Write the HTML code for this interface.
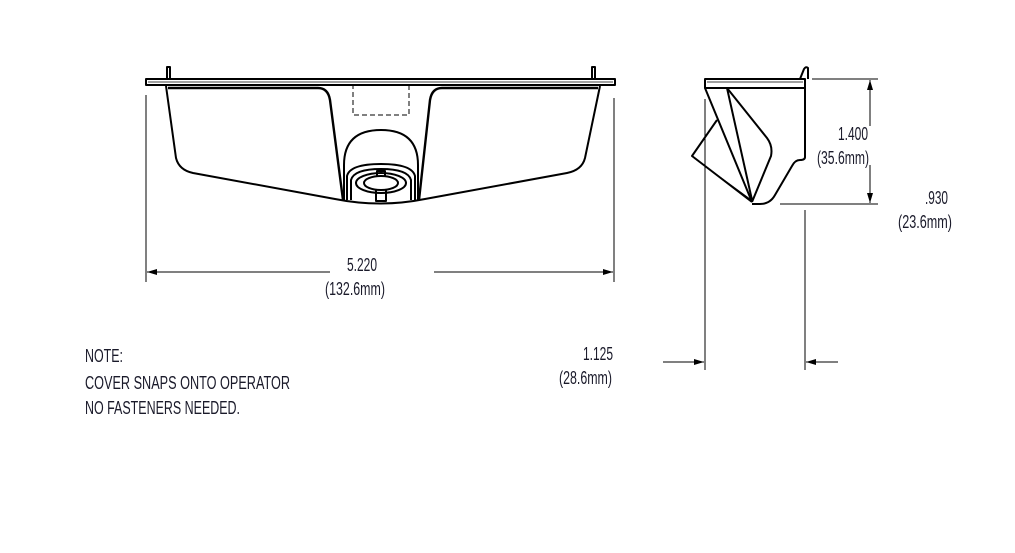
<!DOCTYPE html>
<html><head><meta charset="utf-8"><style>
html,body{margin:0;padding:0;background:#fff;}
svg{display:block;}
text{font-family:"Liberation Sans Narrow","Liberation Sans",sans-serif;fill:#1a1a2a;}
</style></head><body>
<svg width="1015" height="553" viewBox="0 0 1015 553" xmlns="http://www.w3.org/2000/svg">
<defs>
<marker id="a" viewBox="0 0 10 6" refX="10" refY="3" markerWidth="14" markerHeight="6" markerUnits="userSpaceOnUse" orient="auto"><path d="M0,0L10,3L0,6z" fill="#000"/></marker>
</defs>
<g fill="none" stroke="#000" stroke-width="2" stroke-linejoin="round">
<!-- front view -->
<rect x="146" y="79" width="469" height="6"/>
<line x1="148" y1="82" x2="613" y2="82" stroke-width="0.8"/>
<path d="M167,79V67h3v12M592,79V67h3v12"/>
<path d="M166,86L176,158Q179,170 193,173L335,199Q380,208 425,199L567,173Q582,170 585,158L600,86"/>
<path d="M168,88H318Q328,88 330,100L343,200" stroke-width="2.4"/>
<path d="M598,88H442Q432,88 430,100L419,200" stroke-width="2.4"/>
<rect x="353" y="85" width="56" height="30" stroke-dasharray="5,3" stroke-width="1"/>
<path d="M344,200V165Q344,130 381,130Q418,130 418,165V200"/>
<path d="M347,200V176Q350,164 381,164Q412,164 415,176V200"/>
<path d="M351,200V180Q354,169 381,169Q408,169 411,180V200"/>
<ellipse cx="381" cy="183" rx="25" ry="10"/>
<ellipse cx="381" cy="183" rx="17" ry="7"/>
<path d="M376,190V201H386V190"/>
<path d="M377,176v-5h8v5"/>
<!-- front dims -->
<line x1="146" y1="95" x2="146" y2="282" stroke-width="1"/>
<line x1="614" y1="98" x2="614" y2="282" stroke-width="1"/>
<line x1="330" y1="272" x2="147" y2="272" stroke-width="1" marker-end="url(#a)"/>
<line x1="434" y1="272" x2="613" y2="272" stroke-width="1" marker-end="url(#a)"/>
<!-- side view -->
<path d="M705,79H805V88H705z"/>
<line x1="707" y1="82" x2="803" y2="82" stroke-width="0.8"/>
<path d="M800,79L804,69Q806,66 808,68V79"/>
<path d="M805,88V157Q805,160 800,160Q795,160 792,166L775,195Q770,204 760,204H752"/>
<path d="M705,88L752,202"/>
<path d="M727,88L752,200"/>
<path d="M717,120L692,156L752,202"/>
<line x1="694" y1="158" x2="750" y2="199" stroke-width="0.8"/>
<path d="M727,88L767,138Q773,146 771,156L752,202"/>
<!-- side dims -->
<line x1="705" y1="99" x2="705" y2="370" stroke-width="1"/>
<line x1="805" y1="98" x2="805" y2="140" stroke-width="1"/>
<line x1="805" y1="210" x2="805" y2="370" stroke-width="1"/>
<line x1="812" y1="79" x2="878" y2="79" stroke-width="1"/>
<line x1="780" y1="204" x2="878" y2="204" stroke-width="1"/>
<line x1="870" y1="126" x2="870" y2="80" stroke-width="1" marker-end="url(#a)"/>
<line x1="870" y1="165" x2="870" y2="203" stroke-width="1" marker-end="url(#a)"/>
<line x1="663" y1="362" x2="704" y2="362" stroke-width="1" marker-end="url(#a)"/>
<line x1="838" y1="362" x2="806" y2="362" stroke-width="1" marker-end="url(#a)"/>
</g>
<g font-size="18">
<text x="347" y="271" textLength="30" lengthAdjust="spacingAndGlyphs">5.220</text>
<text x="325" y="295" textLength="60" lengthAdjust="spacingAndGlyphs">(132.6mm)</text>
<text x="838" y="140" textLength="30" lengthAdjust="spacingAndGlyphs">1.400</text>
<text x="817" y="164" textLength="52" lengthAdjust="spacingAndGlyphs">(35.6mm)</text>
<text x="925" y="204" textLength="23" lengthAdjust="spacingAndGlyphs">.930</text>
<text x="898" y="228" textLength="54" lengthAdjust="spacingAndGlyphs">(23.6mm)</text>
<text x="583" y="360" textLength="30" lengthAdjust="spacingAndGlyphs">1.125</text>
<text x="559" y="384" textLength="53" lengthAdjust="spacingAndGlyphs">(28.6mm)</text>
<text x="85" y="362" textLength="38" lengthAdjust="spacingAndGlyphs">NOTE:</text>
<text x="85" y="389" textLength="205" lengthAdjust="spacingAndGlyphs">COVER SNAPS ONTO OPERATOR</text>
<text x="85" y="414" textLength="155" lengthAdjust="spacingAndGlyphs">NO FASTENERS NEEDED.</text>
</g>
</svg>
</body></html>
